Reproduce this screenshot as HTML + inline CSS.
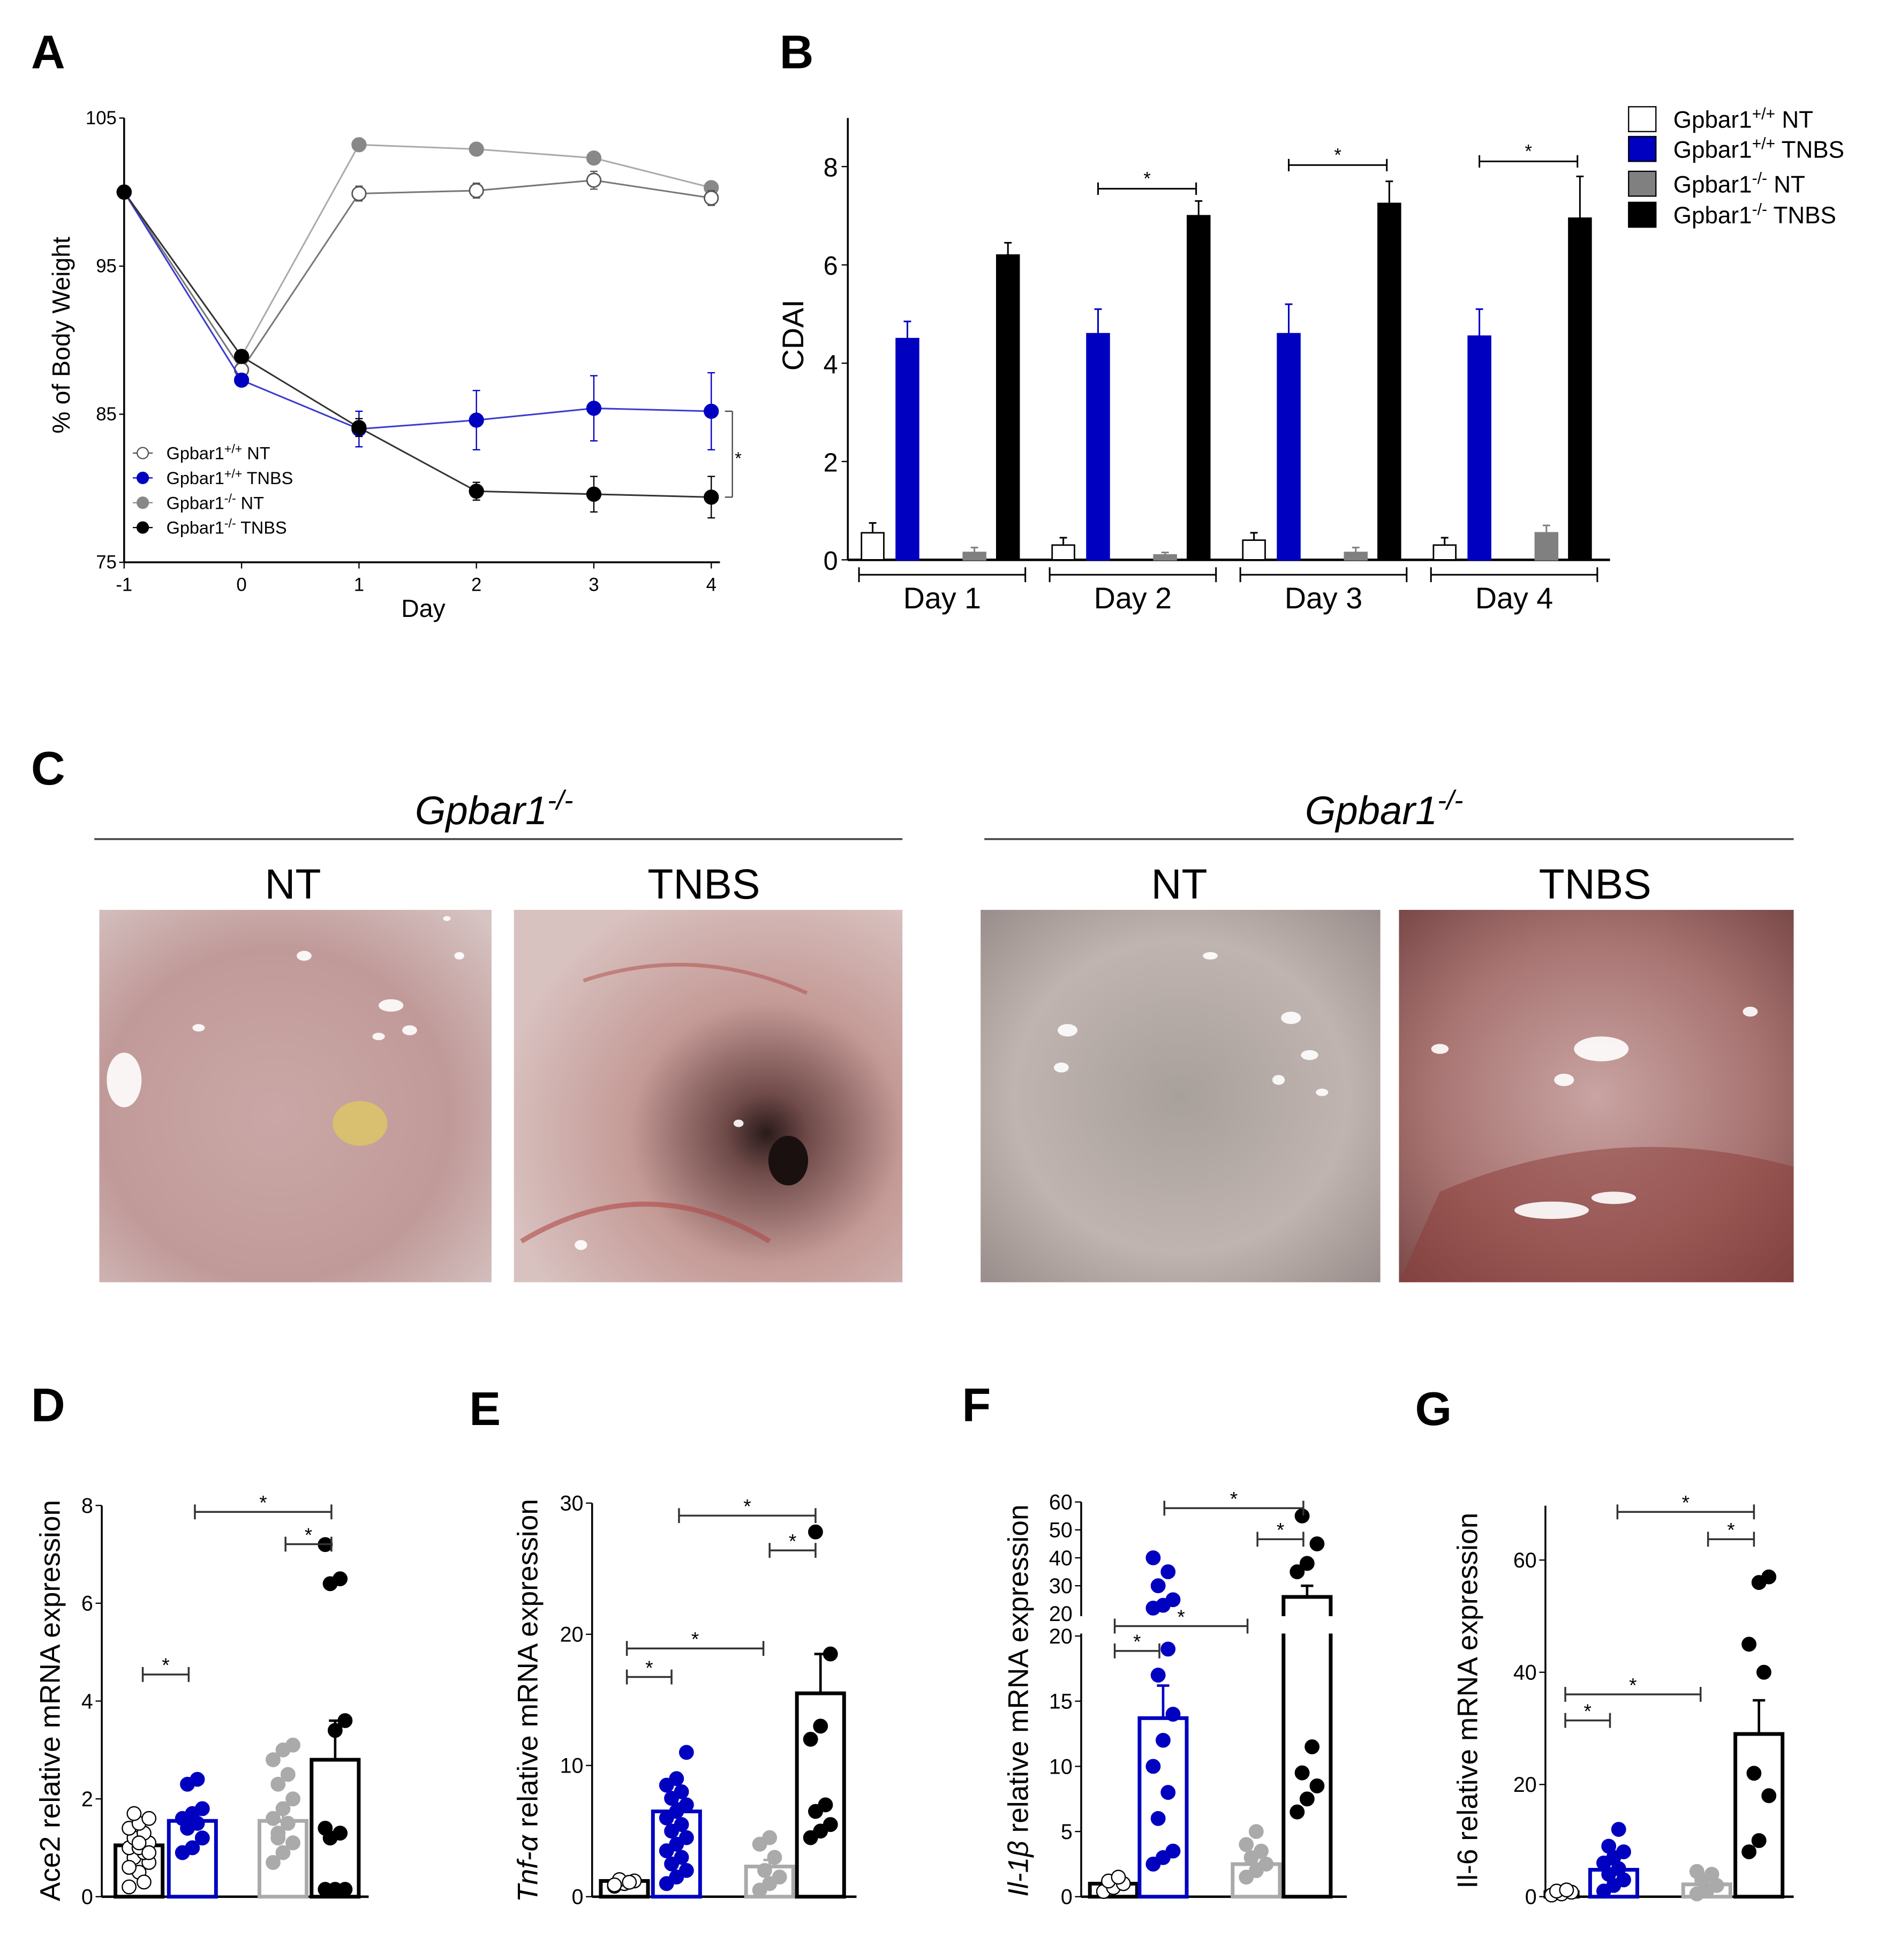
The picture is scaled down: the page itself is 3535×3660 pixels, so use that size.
<!DOCTYPE html>
<html><head><meta charset="utf-8"><style>
html,body{margin:0;padding:0;background:#fff;}
svg{display:block;font-family:"Liberation Sans",sans-serif;}
</style></head><body>
<svg id="fig" width="3535" height="3660" viewBox="0 0 1525 1579" preserveAspectRatio="none" xmlns="http://www.w3.org/2000/svg">
<defs>
<radialGradient id="g1" cx="0.45" cy="0.55" r="0.75"><stop offset="0" stop-color="#caa7a6"/><stop offset="0.6" stop-color="#c09a99"/><stop offset="1" stop-color="#d6c4c3"/></radialGradient>
<radialGradient id="g2" cx="0.65" cy="0.6" r="0.7"><stop offset="0" stop-color="#2a1a1a"/><stop offset="0.15" stop-color="#6e4a48"/><stop offset="0.5" stop-color="#c49a96"/><stop offset="1" stop-color="#d8c2c0"/></radialGradient>
<radialGradient id="g3" cx="0.5" cy="0.5" r="0.7"><stop offset="0" stop-color="#a8a09a"/><stop offset="0.6" stop-color="#c0b4b0"/><stop offset="1" stop-color="#9a8e8c"/></radialGradient>
<radialGradient id="g4" cx="0.5" cy="0.5" r="0.7"><stop offset="0" stop-color="#c8a4a2"/><stop offset="0.6" stop-color="#a87472"/><stop offset="1" stop-color="#7a4a48"/></radialGradient>
</defs>
<g id="root"></g>
</svg>
<script>
// ---- Panel A data ----
const daysA = [-1,0,1,2,3,4];
const wtNT = [100,88,99.9,100.1,100.8,99.6];
const wtNTerr = [0,0.3,0.5,0.5,0.6,0.5];
const wtTNBS = [100,87.3,84,84.6,85.4,85.2];
const wtTNBSerr = [0,0.2,1.2,2,2.2,2.6];
const koNT = [100,88.9,103.2,102.9,102.3,100.3];
const koNTerr = [0,0.3,0.4,0.3,0.4,0.3];
const koTNBS = [100,88.9,84.1,79.8,79.6,79.4];
const koTNBSerr = [0,0.3,0.6,0.6,1.2,1.4];
const ticksA = [75,85,95,105];
const xTicksA = ["-1","0","1","2","3","4"];
// ---- Panel B data ----
const dayLabels = ["Day 1","Day 2","Day 3","Day 4"];
const bWtNT = [0.55,0.3,0.4,0.3];
const bWtNTerr = [0.2,0.15,0.15,0.15];
const bWtTNBS = [4.5,4.6,4.6,4.55];
const bWtTNBSerr = [0.35,0.5,0.6,0.55];
const bKoNT = [0.15,0.1,0.15,0.55];
const bKoNTerr = [0.1,0.05,0.1,0.15];
const bKoTNBS = [6.2,7.0,7.25,6.95];
const bKoTNBSerr = [0.25,0.3,0.45,0.85];
const ticksB = [0,2,4,6,8];
// ---- Panels D-G data ----
const dMeans = [1.05,1.55,1.55,2.8];
const dErr = [0.1,0.15,0.2,0.8];
const dDots0 = [0.2,0.5,0.7,0.8,0.9,1.0,1.0,1.1,1.2,1.3,1.4,1.5,1.6,1.7,0.3,0.6,1.1,0.9];
const dDots1 = [0.9,1.0,1.2,1.4,1.5,1.6,1.7,1.8,2.3,2.4];
const dDots2 = [0.7,0.9,1.1,1.3,1.5,1.6,1.8,2.0,2.3,2.5,2.8,3.0,3.1,1.2];
const dDots3 = [0.15,0.15,0.15,1.2,1.3,1.4,3.4,3.6,6.4,6.5,7.2];
const dTicks = [0,2,4,6,8];
const eMeans = [1.2,6.5,2.3,15.5];
const eErr = [0.1,0.6,0.5,3];
const eDots0 = [0.8,1.0,1.2,1.3,1.1,0.9];
const eDots1 = [1,1.5,2,2.5,3,3.5,4,4.5,5,5.5,6,6.5,7,7.5,8,8.5,9,11];
const eDots2 = [0.5,1,1.5,2,3,4,4.5];
const eDots3 = [4.5,5,5.5,6.5,7,12,13,18.5,27.8];
const eTicks = [0,10,20,30];
const fMeans = [1,13.7,2.5,26];
const fErr = [0.2,2.5,0.5,4];
const fDots0 = [0.4,0.7,1,1.2,1.5];
const fDots1 = [2.5,3,3.5,6,8,10,12,14,17,19,22,23,25,30,35,40];
const fDots2 = [1.5,2,2.5,3,3.5,4,5];
const fDots3 = [6.5,7.5,8.5,9.5,11.5,35,38,45,55];
const fTicksLow = [0,5,10,15,20];
const fTicksHigh = [20,30,40,50,60];
const gMeans = [0.8,4.8,2.2,29];
const gErr = [0.2,1,0.6,6];
const gDots0 = [0.3,0.5,0.8,1,1.2];
const gDots1 = [1,2,3,4,5,6,7,8,9,12];
const gDots2 = [0.5,1,2,3,4,4.5];
const gDots3 = [8,10,18,22,40,45,56,57];
const gTicks = [0,20,40,60];

const NS="http://www.w3.org/2000/svg";
const root=document.getElementById('root');
function mk(tag,attrs,parent,txt){const e=document.createElementNS(NS,tag);for(const k in attrs)e.setAttribute(k,attrs[k]);if(txt!==undefined)e.textContent=txt;(parent||root).appendChild(e);return e;}
function line(x1,y1,x2,y2,s,w,p){return mk('line',{x1,y1,x2,y2,stroke:s||'#000','stroke-width':w||1.5},p);}

// ---------- Panel letters ----------
[["A",25,55],["B",628,55],["C",25,632],["D",25,1145],["E",378,1148],["F",775,1145],["G",1140,1148]].forEach(l=>{
  const t=mk('text',{x:l[1],y:l[2],'font-size':38,'font-weight':'bold'},root,l[0]);
  
  
});

// ---------- Panel A ----------
const gA=mk('g',{});


const xA=d=>100+(d+1)*94.6;
const yA=v=>453-(v-75)*11.93;
line(100,95,100,453,'#000',1.5,gA);
line(100,453,580,453,'#000',1.5,gA);
ticksA.forEach(t=>{line(96,yA(t),100,yA(t),'#000',1,gA);mk('text',{x:94,y:yA(t)+5,'font-size':15,'text-anchor':'end'},gA,t);});
daysA.forEach((d,i)=>{line(xA(d),453,xA(d),458,'#000',1,gA);mk('text',{x:xA(d),y:476,'font-size':15,'text-anchor':'middle'},gA,xTicksA[i]);});
const ylA=mk('text',{x:0,y:0,'font-size':20,'text-anchor':'middle',transform:'translate(56,270) rotate(-90)'},gA,'% of Body Weight');


mk('text',{x:341,y:497,'font-size':20,'text-anchor':'middle'},gA,'Day');
function seriesA(vals,errs,col,fill,lcol,name){
  const g=mk('g',{},gA);
  
  
  mk('polyline',{points:vals.map((v,i)=>xA(daysA[i])+','+yA(v)).join(' '),fill:'none',stroke:lcol,'stroke-width':1.3},g);
  vals.forEach((v,i)=>{const x=xA(daysA[i]);if(errs[i]>0){line(x,yA(v-errs[i]),x,yA(v+errs[i]),col,1,g);line(x-3,yA(v+errs[i]),x+3,yA(v+errs[i]),col,1,g);line(x-3,yA(v-errs[i]),x+3,yA(v-errs[i]),col,1,g);}
    mk('circle',{cx:x,cy:yA(v),r:5.5,fill:fill,stroke:col,'stroke-width':1.2},g);});
}
seriesA(koNT,koNTerr,'#888','#888','#aaa','series-ko-nt');
seriesA(wtNT,wtNTerr,'#555','#fff','#777','series-wt-nt');
seriesA(wtTNBS,wtTNBSerr,'#0000c0','#0000c0','#3a3ad0','series-wt-tnbs');
seriesA(koTNBS,koTNBSerr,'#000','#000','#333','series-ko-tnbs');
line(590,yA(85.2),590,yA(79.4),'#444',1,gA);line(584,yA(85.2),590,yA(85.2),'#444',1,gA);line(584,yA(79.4),590,yA(79.4),'#444',1,gA);
mk('text',{x:592,y:374,'font-size':14},gA,'*');
[["Gpbar1","+/+"," NT","#fff","#555"],["Gpbar1","+/+"," TNBS","#0000c0","#0000c0"],["Gpbar1","-/-"," NT","#888","#888"],["Gpbar1","-/-"," TNBS","#000","#000"]].forEach((l,i)=>{
  const y=365+i*20;const g=mk('g',{},gA);
  
  
  line(107,y,123,y,l[4],1,g);mk('circle',{cx:115,cy:y,r:4.5,fill:l[3],stroke:l[4]},g);
  const t=mk('text',{x:134,y:y+5,'font-size':14},g,l[0]);mk('tspan',{dy:-5,'font-size':10},t,l[1]);mk('tspan',{dy:5},t,l[2]);
});

// ---------- Panel B ----------
const gB=mk('g',{});


const yB=v=>451-v*39.6;
const groupX=i=>703+i*153.6;
line(683,95,683,451,'#000',1.5,gB);line(683,451,1297,451,'#000',2,gB);
ticksB.forEach(t=>{line(678,yB(t),683,yB(t),'#000',1,gB);mk('text',{x:675,y:yB(t)+8,'font-size':21,'text-anchor':'end'},gB,t);});
mk('text',{x:0,y:0,'font-size':24,'text-anchor':'middle',transform:'translate(647,270) rotate(-90)'},gB,'CDAI');
const seriesB=[[bWtNT,bWtNTerr,'#fff','#000',0],[bWtTNBS,bWtTNBSerr,'#0000c0','#0000c0',28],[bKoNT,bKoNTerr,'#808080','#808080',82],[bKoTNBS,bKoTNBSerr,'#000','#000',109]];
const sbNames=['bar-wt-nt','bar-wt-tnbs','bar-ko-nt','bar-ko-tnbs'];
seriesB.forEach((s,k)=>{s[0].forEach((v,i)=>{const cx=groupX(i)+s[4];
  const r=mk('rect',{x:cx-9,y:yB(v),width:18,height:451-yB(v),fill:s[2],stroke:s[3],'stroke-width':1.2},gB);
  
  
  const te=yB(v+s[1][i]);line(cx,yB(v),cx,te,s[3],1.3,gB);line(cx-3,te,cx+3,te,s[3],1.3,gB);});});
dayLabels.forEach((d,i)=>{const x0=692+i*153.6,x1=826+i*153.6;line(x0,463,x1,463,'#000',1.3,gB);line(x0,457,x0,469,'#000',1.3,gB);line(x1,457,x1,469,'#000',1.3,gB);
  mk('text',{x:(x0+x1)/2,y:490,'font-size':24,'text-anchor':'middle'},gB,d);});
[[1,152],[2,133],[3,130]].forEach(s=>{const x0=groupX(s[0])+28,x1=groupX(s[0])+107;line(x0,s[1],x1,s[1],'#000',1.3,gB);line(x0,s[1]-5,x0,s[1]+5,'#000',1.3,gB);line(x1,s[1]-5,x1,s[1]+5,'#000',1.3,gB);mk('text',{x:(x0+x1)/2,y:s[1]-3,'font-size':15,'text-anchor':'middle'},gB,'*');});
[["+/+"," NT","#fff"],["+/+"," TNBS","#0000c0"],["-/-"," NT","#808080"],["-/-"," TNBS","#000"]].forEach((l,i)=>{const y=[96,120,148,173][i];const g=mk('g',{},gB);
  
  
  mk('rect',{x:1312,y:y-10,width:22,height:20,fill:l[2],stroke:'#000','stroke-width':1},g);
  const t=mk('text',{x:1348,y:y+7,'font-size':19},g,'Gpbar1');mk('tspan',{dy:-7,'font-size':13},t,l[0]);mk('tspan',{dy:7},t,l[1]);});

// ---------- Panel C ----------
const gC=mk('g',{});


[[398,76,727],[1115,793,1445]].forEach(h=>{const t=mk('text',{x:h[0],y:664,'font-size':32,'font-style':'italic','text-anchor':'middle'},gC,'Gpbar1');mk('tspan',{dy:-12,'font-size':22},t,'-/-');line(h[1],676,h[2],676,'#444',1.5,gC);});
[["NT",236],["TNBS",567],["NT",950],["TNBS",1285]].forEach(l=>mk('text',{x:l[1],y:724,'font-size':34,'text-anchor':'middle'},gC,l[0]));
[[80,396,'g1'],[414,727,'g2'],[790,1112,'g3'],[1127,1445,'g4']].forEach((p,i)=>{const r=mk('rect',{x:p[0],y:733,width:p[1]-p[0],height:300,fill:'url(#'+p[2]+')'},gC);
  
  });
mk('ellipse',{cx:290,cy:905,rx:22,ry:18,fill:'#d8c070'},gC);
mk('ellipse',{cx:635,cy:935,rx:16,ry:20,fill:'#1a1010'},gC);
mk('path',{d:'M1160 960 Q1300 900 1445 940 L1445 1033 L1127 1033 Z',fill:'#8a3a36',opacity:0.5},gC);
mk('path',{d:'M420 1000 Q520 940 620 1000',fill:'none',stroke:'#b04a48','stroke-width':4,opacity:0.6},gC);
mk('path',{d:'M470 790 Q560 760 650 800',fill:'none',stroke:'#b04a48','stroke-width':3,opacity:0.5},gC);
// specular highlights
[[315,810,10,5],[330,830,6,4],[305,835,5,3],[100,870,14,22],[160,828,5,3],[245,770,6,4],[370,770,4,3],[360,740,3,2],
 [860,830,8,5],[855,860,6,4],[1040,820,8,5],[1055,850,7,4],[1065,880,5,3],[1030,870,5,4],[975,770,6,3],
 [1290,845,22,10],[1260,870,8,5],[1250,975,30,7],[1300,965,18,5],[1160,845,7,4],[1410,815,6,4],[595,905,4,3],[468,1003,5,4]
].forEach(h=>mk('ellipse',{cx:h[0],cy:h[1],rx:h[2],ry:h[3],fill:'#fff',opacity:0.9},gC));

// ---------- Panels D-G ----------
function scatterPanel(opt){
  const g=mk('g',{});
  
  
  const Y=opt.y;
  line(opt.ax,opt.top,opt.ax,1528,'#000',1.5,g);line(opt.ax,1528,opt.xend,1528,'#000',2,g);
  opt.ticks.forEach(t=>{line(opt.ax-5,Y(t),opt.ax,Y(t),'#000',1,g);mk('text',{x:opt.ax-7,y:Y(t)+6,'font-size':17,'text-anchor':'end'},g,t);});
  if(opt.ticks2)opt.ticks2.forEach(t=>{const yy=opt.y2(t);line(opt.ax-5,yy,opt.ax,yy,'#000',1,g);mk('text',{x:opt.ax-7,y:yy+6,'font-size':17,'text-anchor':'end'},g,t);});
  const t=mk('text',{x:0,y:0,'font-size':23,'text-anchor':'middle',transform:'translate('+opt.lx+',1370) rotate(-90)'},g,'');
  if(opt.ital){mk('tspan',{'font-style':'italic'},t,opt.ital);}
  mk('tspan',{},t,opt.label);
  const cols=[['#000','#fff'],['#0000c0','#0000c0'],['#aaa','#aaa'],['#000','#000']];
  opt.means.forEach((m,i)=>{const cx=opt.bx[i];const w=i===0?opt.w0:38;
    const r=mk('rect',{x:cx-w/2,y:Y(m),width:w,height:1528-Y(m),fill:'none',stroke:cols[i][0],'stroke-width':3},g);
    
    
    const te=Y(m+opt.err[i]);line(cx,Y(m),cx,te,cols[i][0],2,g);line(cx-5,te,cx+5,te,cols[i][0],2,g);
    opt.dots[i].forEach((v,j)=>{const dx=((j*7)%5-2)*4;
      const c=mk('circle',{cx:cx+dx,cy:Y(v),r:5.5,fill:cols[i][1],stroke:i===0?'#000':cols[i][0],'stroke-width':1},g);
      
      });
  });
  if(opt.brk){mk('rect',{x:opt.ax-8,y:1302,width:opt.xend-opt.ax+8,height:14,fill:'#fff'},g);}
  opt.sig.forEach(s=>{line(s[0],s[2],s[1],s[2],'#333',1.5,g);line(s[0],s[2]-6,s[0],s[2]+6,'#333',1.5,g);line(s[1],s[2]-6,s[1],s[2]+6,'#333',1.5,g);mk('text',{x:(s[0]+s[1])/2,y:s[2]-2,'font-size':16,'text-anchor':'middle'},g,'*');});
}
scatterPanel({name:'ace2-panel',ax:82,top:1213,xend:297,y:v=>1528-v*39.4,ticks:dTicks,lx:48,label:'Ace2 relative mRNA expression',means:dMeans,err:dErr,dots:[dDots0,dDots1,dDots2,dDots3],bx:[112,155,228,270],w0:38,sig:[[115,152,1349],[157,267,1218],[230,267,1244]]});
scatterPanel({name:'tnf-panel',ax:477,top:1211,xend:690,y:v=>1528-v*10.57,ticks:eTicks,lx:433,ital:'Tnf-α',label:' relative mRNA expression',means:eMeans,err:eErr,dots:[eDots0,eDots1,eDots2,eDots3],bx:[503,545,620,661],w0:38,sig:[[505,541,1351],[505,615,1328],[547,657,1221],[620,657,1249]]});
scatterPanel({name:'il1b-panel',ax:871,top:1210,xend:1085,y:v=>v<=20?1528-v*10.5:1300-(v-20)*2.25,y2:v=>1300-(v-20)*2.25,ticks:fTicksLow,ticks2:fTicksHigh.slice(1).concat([]),brk:true,lx:828,ital:'Il-1β',label:' relative mRNA expression',means:fMeans,err:fErr,dots:[fDots0,fDots1,fDots2,fDots3],bx:[897,937,1012,1053],w0:38,sig:[[898,934,1330],[898,1005,1310],[938,1050,1215],[1013,1050,1240]]});
mk('text',{x:864,y:1306,'font-size':17,'text-anchor':'end'},root,'20');
scatterPanel({name:'il6-panel',ax:1245,top:1213,xend:1445,y:v=>1528-v*4.52,ticks:gTicks,lx:1190,label:'Il-6 relative mRNA expression',means:gMeans,err:gErr,dots:[gDots0,gDots1,gDots2,gDots3],bx:[1258,1300,1375,1417],w0:26,sig:[[1261,1297,1386],[1261,1370,1365],[1303,1413,1218],[1376,1413,1240]]});
</script>
</body></html>
